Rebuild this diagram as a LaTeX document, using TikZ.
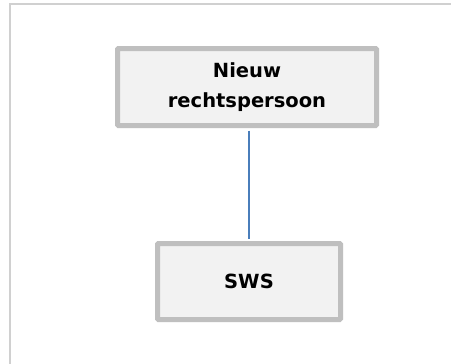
\documentclass[tikz,border=0pt]{standalone}
\usepackage{fontspec}
\setmainfont{DejaVu Sans}
\definecolor{boxfill}{HTML}{F2F2F2}
\definecolor{boxline}{HTML}{BFBFBF}
\definecolor{frameline}{HTML}{D0D0D0}
\definecolor{link}{HTML}{4A7EBB}
\begin{document}
\begin{tikzpicture}[x=1pt,y=-1pt,
  orgbox/.style={draw=boxline, fill=boxfill, line width=5pt, rounded corners=1pt,
    inner sep=0pt, align=center, text=black,
    font=\fontsize{19.5}{30}\selectfont\bfseries},
  linkline/.style={draw=link, line width=1.4pt}]
\useasboundingbox (0,0) rectangle (451,364);
\fill[white] (0,0) rectangle (451,364);
\coordinate (fc) at (10,4);
\coordinate (fr) at (451,4);
\coordinate (fb) at (10,364);
\draw[frameline, line width=1.5pt] (fb) -- (fc) -- (fr);
\node[orgbox, minimum width=259pt, minimum height=77pt] (top) at (247,87) {Nieuw\\rechtspersoon};
\node[orgbox, minimum width=183pt, minimum height=76pt] (sws) at (249,281.5) {SWS};
\draw[linkline, shorten <=2.5pt, shorten >=2.5pt] (sws.north |- top.south) -- (sws.north);
\end{tikzpicture}
\end{document}
